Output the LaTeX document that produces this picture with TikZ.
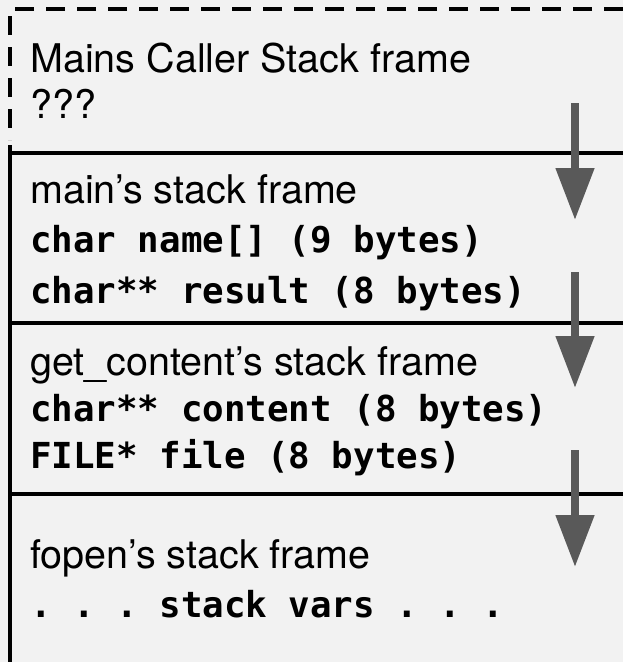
\documentclass[tikz,border=0pt]{standalone}
\usepackage{fontspec}
\setmainfont{TeX Gyre Heros}
\newfontfamily\codefont{DejaVu Sans Mono}[BoldFont={DejaVu Sans Mono Bold}]
\usetikzlibrary{arrows.meta}
\definecolor{bgfill}{HTML}{F2F2F2}
\definecolor{arrowgray}{HTML}{595959}
\tikzset{
  sep/.style={line width=3.5pt, black},
  dashsep/.style={line width=3.5pt, black, dash pattern=on 19pt off 12pt},
  lbl/.style={anchor=base west, inner sep=0pt, font=\fontsize{39.5}{44}\selectfont},
  code/.style={anchor=base west, inner sep=0pt, font=\codefont\bfseries\frenchspacing\fontsize{35.8}{42}\selectfont},
  growarrow/.style={line width=8pt, arrowgray, -{Triangle[length=52pt,width=37pt]}}
}
\begin{document}
\begin{tikzpicture}[x=1pt,y=-1pt]
\fill[bgfill] (0,0) rectangle (623,662);
\useasboundingbox (0,0) rectangle (623,662);
% dashed outline of caller frame
\draw[dashsep] (623,9) -- (10,9) -- (10,140);
% solid separators
\draw[sep] (10,145) -- (10,662);
\draw[sep] (10,153) -- (623,153);
\draw[sep] (10,323) -- (623,323);
\draw[sep] (10,494) -- (623,494);
% texts
\node[lbl] (caller) at (30,72) {Mains Caller Stack frame};
\node[lbl] (q) at (30,118) {???};
\node[lbl] (mainf) at (30,203) {main’s stack frame};
\node[code] (name) at (30,252) {char name[] (9 bytes)};
\node[code] (result) at (30,303) {char** result (8 bytes)};
\node[lbl] (getf) at (30,375) {get\_content’s stack frame};
\node[code] (content) at (30,421) {char** content (8 bytes)};
\node[code] (file) at (30,468) {FILE* file (8 bytes)};
\node[lbl] (fopenf) at (30,568) {fopen’s stack frame};
\node[code] (vars) at (30,617) {. . . stack vars . . .};
% arrows
\coordinate (a1s) at (575,103);
\coordinate (a1e) at (575,220);
\coordinate (a2s) at (575,272);
\coordinate (a2e) at (575,388);
\coordinate (a3s) at (575,450);
\coordinate (a3e) at (575,567);
\draw[growarrow] (a1s) -- (a1e);
\draw[growarrow] (a2s) -- (a2e);
\draw[growarrow] (a3s) -- (a3e);
\end{tikzpicture}
\end{document}
